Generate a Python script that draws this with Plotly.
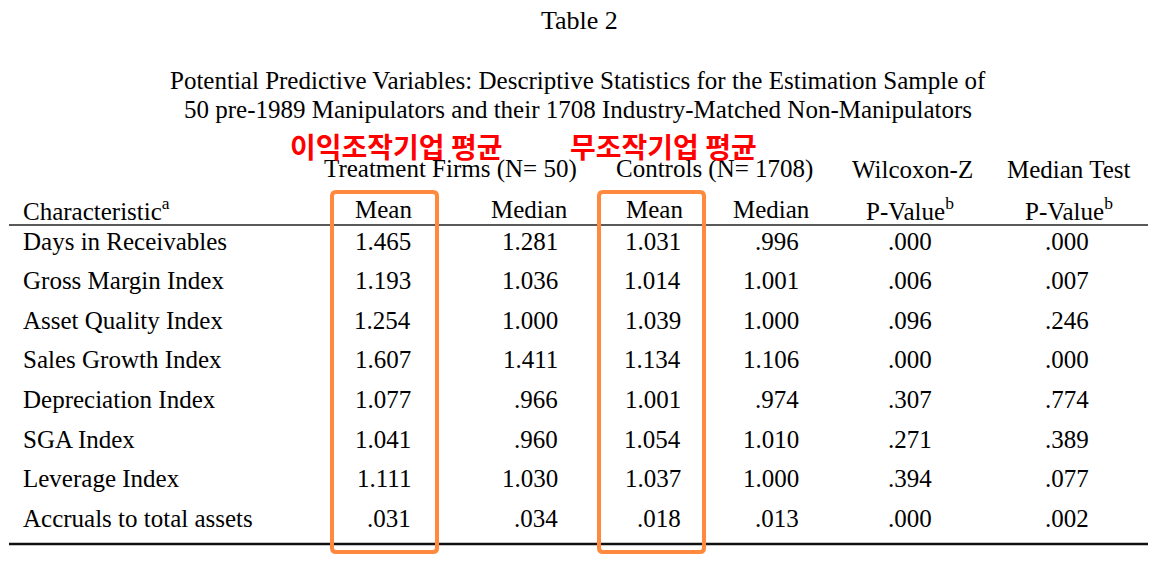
import plotly.graph_objects as go

# table content
characteristics = [
    "Days in Receivables",
    "Gross Margin Index",
    "Asset Quality Index",
    "Sales Growth Index",
    "Depreciation Index",
    "SGA Index",
    "Leverage Index",
    "Accruals to total assets",
]
treat_mean = ["1.465", "1.193", "1.254", "1.607", "1.077", "1.041", "1.111", ".031"]
treat_median = ["1.281", "1.036", "1.000", "1.411", ".966", ".960", "1.030", ".034"]
ctrl_mean = ["1.031", "1.014", "1.039", "1.134", "1.001", "1.054", "1.037", ".018"]
ctrl_median = [".996", "1.001", "1.000", "1.106", ".974", "1.010", "1.000", ".013"]
wilcoxon_p = [".000", ".006", ".096", ".000", ".307", ".271", ".394", ".000"]
median_test_p = [".000", ".007", ".246", ".000", ".774", ".389", ".077", ".002"]

group_headers = ["Treatment Firms (N= 50)", "Controls (N= 1708)", "Wilcoxon-Z", "Median Test"]
col_headers = ["Mean", "Median", "Mean", "Median", "P-Value<sup>b</sup>", "P-Value<sup>b</sup>"]
korean_notes = ["이익조작기업 평균", "무조작기업 평균"]

W, H = 1163, 568
SERIF = "Liberation Serif, Times New Roman, serif"
ORANGE = "#FF8A3D"
FS = 25

columns = [treat_mean, treat_median, ctrl_mean, ctrl_median, wilcoxon_p, median_test_p]
col_right = [413, 560, 683, 801, 934, 1091]
col_center = [383, 529, 654, 771, 910, 1069]
group_center = [450, 714, 912, 1069]

row_y0, row_step = 241, 39.6

fig = go.Figure()
ann = []


def txt(x, y, s, size=FS, xanchor="center", color="black", family=SERIF):
    ann.append(dict(x=x, y=y, text=s, showarrow=False, xanchor=xanchor, yanchor="middle",
                    font=dict(family=family, size=size, color=color)))


txt(W / 2 - 2, 20, "Table 2", size=26)
txt(578, 80, "Potential Predictive Variables: Descriptive Statistics for the Estimation Sample of")
txt(578, 109, "50 pre-1989 Manipulators and their 1708 Industry-Matched Non-Manipulators")

for gx, gh in zip(group_center, group_headers):
    txt(gx, 169, gh)
txt(21, 209, "Characteristic<sup>a</sup>", xanchor="left")
for cx, ch in zip(col_center, col_headers):
    txt(cx, 209, ch)

for i, name in enumerate(characteristics):
    y = row_y0 + i * row_step
    txt(21, y, name, xanchor="left")
    for xr, col in zip(col_right, columns):
        txt(xr, y, col[i], xanchor="right")

# red Korean notes written over the group headers
korean_font = "Noto Sans CJK KR"
for kx, note in zip([288, 568], korean_notes):
    ann.append(dict(x=kx, y=146, text="<b>" + note + "</b>", showarrow=False, xanchor="left",
                    yanchor="middle", font=dict(family=korean_font, size=28, color="#FF0000")))

shapes = [
    dict(type="line", x0=9, x1=1148, y0=225, y1=225, line=dict(color="#222222", width=1.5)),
    dict(type="line", x0=9, x1=1148, y0=544, y1=544, line=dict(color="#111111", width=2.5)),
]


def rounded_box(x0, y0, x1, y1, r=4):
    path = (f"M{x0 + r},{y0} L{x1 - r},{y0} Q{x1},{y0} {x1},{y0 + r} "
            f"L{x1},{y1 - r} Q{x1},{y1} {x1 - r},{y1} L{x0 + r},{y1} "
            f"Q{x0},{y1} {x0},{y1 - r} L{x0},{y0 + r} Q{x0},{y0} {x0 + r},{y0} Z")
    return dict(type="path", path=path, line=dict(color=ORANGE, width=4))


shapes.append(rounded_box(332, 192, 437, 552))
shapes.append(rounded_box(599, 192, 704, 552))

fig.update_layout(
    width=W, height=H,
    margin=dict(l=0, r=0, t=0, b=0),
    paper_bgcolor="white", plot_bgcolor="white",
    xaxis=dict(range=[0, W], visible=False, fixedrange=True),
    yaxis=dict(range=[H, 0], visible=False, fixedrange=True),
    annotations=ann, shapes=shapes,
    showlegend=False,
)

fig.write_html("out.html", config={"displayModeBar": False},
               post_script="document.body.style.margin='0';document.body.style.overflow='hidden';")
